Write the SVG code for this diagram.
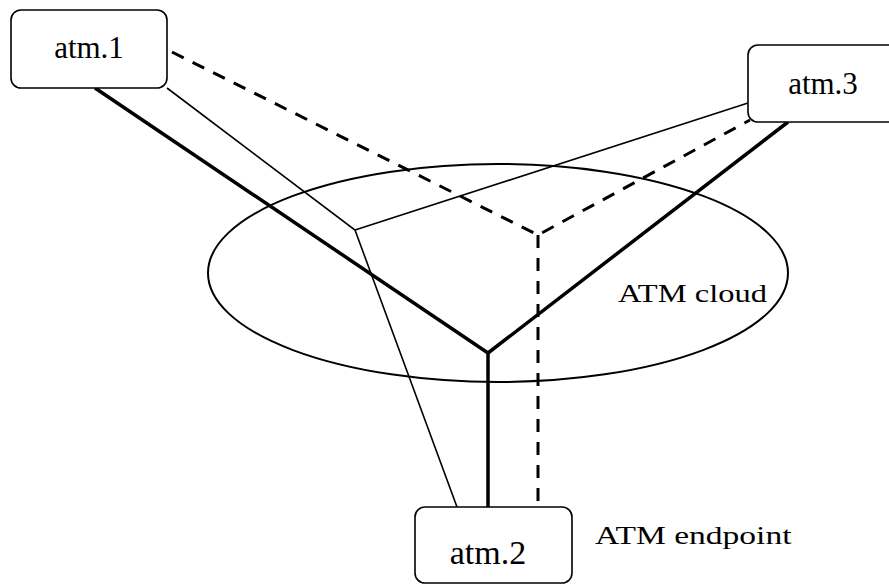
<svg xmlns="http://www.w3.org/2000/svg" width="889" height="585" viewBox="0 0 889 585">
<style>
.box{fill:#fff;stroke:#000;stroke-width:1.6}
.lbl{font-family:"Liberation Serif","Times New Roman",serif;fill:#000}
.thick{stroke:#000;stroke-width:3.5;fill:none;stroke-linejoin:round}
.thin{stroke:#000;stroke-width:1.6;fill:none}
.dash{stroke:#000;stroke-width:3;fill:none;stroke-dasharray:13 10}
</style>
<rect width="889" height="585" fill="#fff"/>
<g id="cloud">
<ellipse cx="498" cy="273" rx="290" ry="109" fill="none" stroke="#000" stroke-width="2"/>
<text class="lbl" font-size="26" transform="translate(618,302) scale(1.25,1)">ATM cloud</text>
</g>
<g id="connectors">
<polyline class="thick" points="95,88 488,353 788,122"/>
<line class="thick" x1="488" y1="353" x2="488" y2="507"/>
<polyline class="thin" points="167,88 355,230 457,507"/>
<line class="thin" x1="355" y1="230" x2="748" y2="103"/>
<polyline class="dash" points="172,52 538,235 750,120"/>
<line class="dash" x1="538" y1="235" x2="538" y2="507"/>
</g>
<g id="atm1">
<rect class="box" x="11" y="10" width="156" height="78" rx="10"/>
<text class="lbl" x="89" y="58" font-size="31" text-anchor="middle">atm.1</text>
</g>
<g id="atm3">
<rect class="box" x="748" y="45" width="156" height="77" rx="10"/>
<text class="lbl" x="823" y="94" font-size="31" text-anchor="middle">atm.3</text>
</g>
<g id="atm2">
<rect class="box" x="415" y="507" width="157" height="76" rx="10"/>
<text class="lbl" x="488" y="564" font-size="34" text-anchor="middle">atm.2</text>
</g>
<g id="endpoint-label">
<text class="lbl" font-size="26" transform="translate(595,544) scale(1.29,1)">ATM endpoint</text>
</g>
</svg>
